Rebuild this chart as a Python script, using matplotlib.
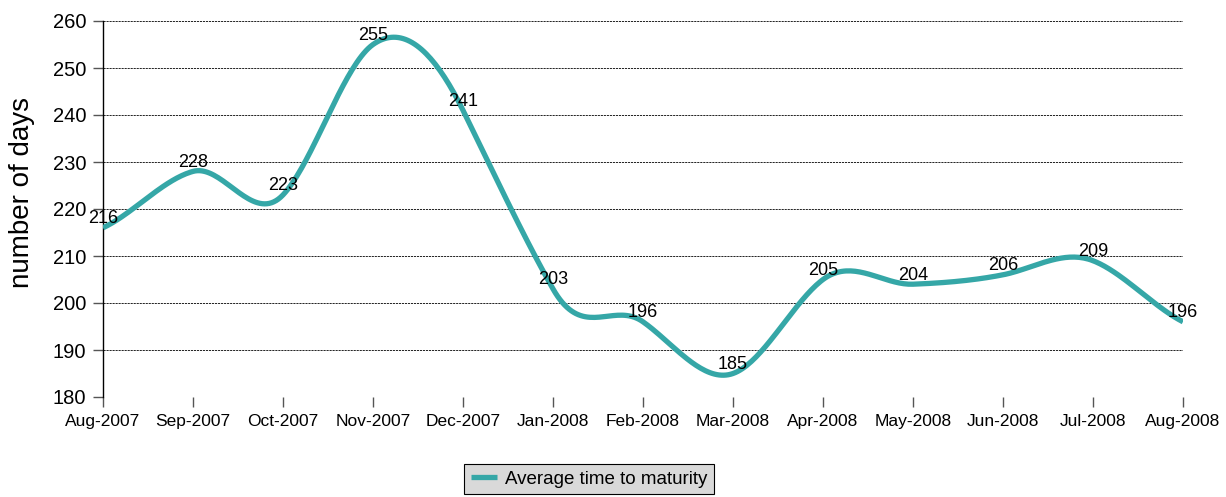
import numpy as np
import matplotlib
matplotlib.use("Agg")
import matplotlib.pyplot as plt

plt.rcParams['font.family'] = ['Liberation Sans', 'DejaVu Sans']

months = ["Aug-2007", "Sep-2007", "Oct-2007", "Nov-2007", "Dec-2007", "Jan-2008",
          "Feb-2008", "Mar-2008", "Apr-2008", "May-2008", "Jun-2008", "Jul-2008",
          "Aug-2008"]
days = [216, 228, 223, 255, 241, 203, 196, 185, 205, 204, 206, 209, 196]

LINE_COLOR = "#35a7a7"


def smooth_curve(xs, ys, k=0.25, n=40):
    """Hermite-style smoothing through every point (x stays linear inside a segment)."""
    xs = np.asarray(xs, float)
    ys = np.asarray(ys, float)
    py = np.concatenate([[ys[0]], ys, [ys[-1]]])
    t = np.linspace(0, 1, n)
    out_x, out_y = [], []
    for i in range(len(xs) - 1):
        j = i + 1
        c1y = py[j] + k * (py[j + 1] - py[j - 1])
        c2y = py[j + 1] - k * (py[j + 2] - py[j])
        b0, b1, b2, b3 = (1 - t) ** 3, 3 * t * (1 - t) ** 2, 3 * t ** 2 * (1 - t), t ** 3
        out_x.append(xs[i] + t * (xs[i + 1] - xs[i]))
        out_y.append(b0 * py[j] + b1 * c1y + b2 * c2y + b3 * py[j + 1])
    return np.concatenate(out_x), np.concatenate(out_y)


fig = plt.figure(figsize=(12.26, 4.97), dpi=100)
ax = fig.add_axes([103 / 1226, 1 - 397 / 497, (1183 - 103) / 1226, (397 - 21) / 497])

x = np.arange(len(months))
sx, sy = smooth_curve(x, days)
ax.plot(sx, sy, color=LINE_COLOR, linewidth=3.8, solid_capstyle='butt',
        label="Average time to maturity", zorder=3)

for xi, v in zip(x, days):
    ax.annotate(str(v), (xi, v), xytext=(0, 0.5), textcoords='offset points',
                ha='center', va='bottom', fontsize=13, color='black', zorder=4)

ax.set_xlim(0, len(months) - 1)
ax.set_ylim(180, 260)
ax.set_yticks(np.arange(180, 261, 10))
ax.set_xticks(x)
ax.set_xticklabels(months)

for yv in np.arange(180, 261, 10):
    ax.axhline(yv, color='#222222', linewidth=0.7, dashes=(2.2, 0.9), zorder=1)

for side in ['top', 'right', 'bottom']:
    ax.spines[side].set_visible(False)
ax.spines['left'].set_color('black')
ax.spines['left'].set_linewidth(1.0)

ax.tick_params(axis='x', direction='out', length=7, width=1, color='#555555',
               labelsize=12.5, pad=5)
ax.tick_params(axis='y', direction='out', length=7, width=1, color='#555555',
               labelsize=14.5, pad=5)

fig.text(22 / 1226, 1 - 193 / 497, "number of days", rotation=90,
         ha='center', va='center', fontsize=20)

leg = fig.legend(loc='upper center', bbox_to_anchor=(589 / 1226, 1 - 464 / 497),
                 fontsize=13.5, fancybox=False, frameon=True, edgecolor='black',
                 facecolor='#d9d9d9', framealpha=1, handlelength=1.4,
                 borderpad=0.35, handletextpad=0.4, borderaxespad=0)
leg.get_frame().set_linewidth(0.8)

fig.savefig("out.png", dpi=100)
